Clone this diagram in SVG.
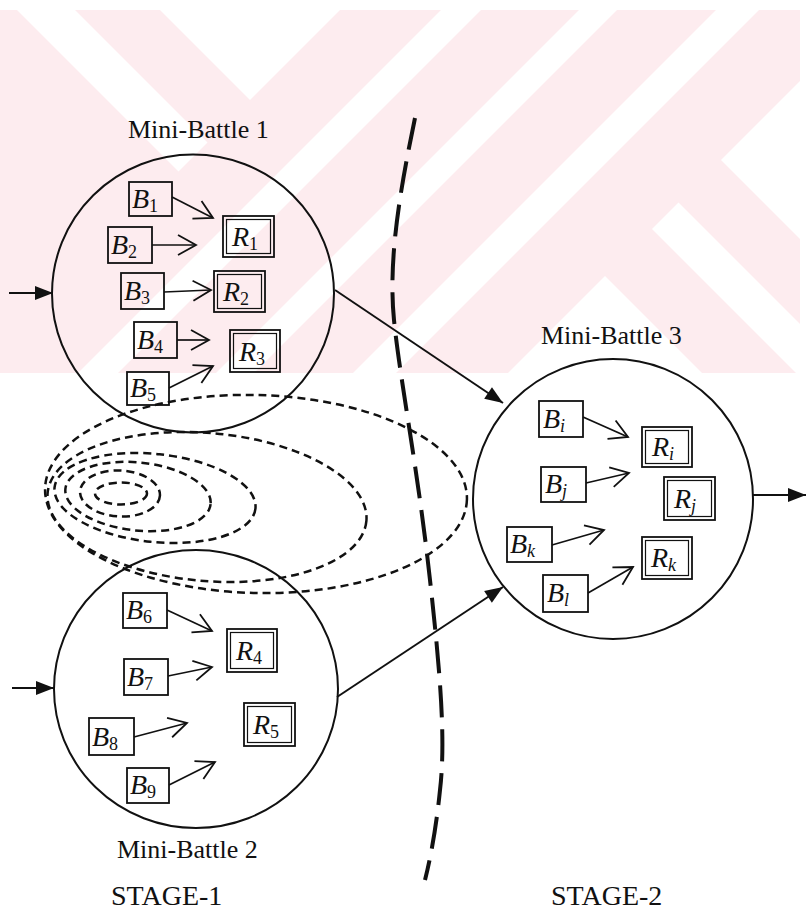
<svg xmlns="http://www.w3.org/2000/svg" width="806" height="911" viewBox="0 0 806 911">
<style>
.lbl{font-family:"Liberation Serif","Times New Roman",serif;font-size:26px;fill:#111}
.stage{font-family:"Liberation Serif","Times New Roman",serif;font-size:28px;fill:#111}
.bt{font-family:"Liberation Serif","Times New Roman",serif;font-size:28px;fill:#111}
.it{font-style:italic}
.sub{font-size:18px}
.circ{fill:none;stroke:#111;stroke-width:2}
.box{fill:none;stroke:#111;stroke-width:1.8}
.inner{fill:none;stroke:#111;stroke-width:1.2}
.conn{fill:none;stroke:#111;stroke-width:2}
.small{fill:none;stroke:#111;stroke-width:1.7}
.contour{fill:none;stroke:#111;stroke-width:2.5;stroke-dasharray:8 5}
.divider{fill:none;stroke:#111;stroke-width:4;stroke-dasharray:32 12}
.wm{fill:#fff}
</style>
<defs>
<clipPath id="wmclip"><rect x="0" y="10" width="800" height="363"/></clipPath>
<marker id="open" viewBox="-21 -13 23 26" refX="0" refY="0" markerWidth="23" markerHeight="26" markerUnits="userSpaceOnUse" orient="auto">
<path d="M-18,-10 L0,0 L-18,10" fill="none" stroke="#111" stroke-width="1.8"/>
</marker>
<marker id="solid" viewBox="-19 -8 20 16" refX="0" refY="0" markerWidth="20" markerHeight="16" markerUnits="userSpaceOnUse" orient="auto">
<path d="M-18,-7 L0,0 L-18,7 Z" fill="#111"/>
</marker>
</defs>
<rect width="806" height="911" fill="#fff"/>
<g id="watermark" clip-path="url(#wmclip)">
<rect x="0" y="10" width="800" height="363" fill="#fdecef"/>
<polygon class="wm" points="7,0 65,0 207.5,142.5 178.5,171.5"/>
<polygon class="wm" points="150,0 350,0 250,100"/>
<polygon class="wm" points="451,0 491,0 91,400 51,400"/>
<polygon class="wm" points="589,0 627,0 227,400 189,400"/>
<polygon class="wm" points="726,0 769,0 369,400 326,400"/>
<polygon class="wm" points="605,276 1005,676 205,676"/>
<polygon class="wm" points="652,229 678.5,202.5 1078.5,602.5 1052,629"/>
<polygon class="wm" points="721,160 1121,-240 1121,560"/>
</g>
<g id="contours">
<ellipse class="contour" cx="256" cy="494" rx="211" ry="99" transform="rotate(1.5 256 494)"/>
<ellipse class="contour" cx="207" cy="507" rx="160" ry="74" transform="rotate(5 207 507)"/>
<ellipse class="contour" cx="155" cy="498" rx="101" ry="44" transform="rotate(6 155 498)"/>
<ellipse class="contour" cx="138" cy="496.5" rx="73" ry="34" transform="rotate(6 138 496.5)"/>
<ellipse class="contour" cx="120" cy="493.5" rx="40" ry="23" transform="rotate(3 120 493.5)"/>
<ellipse class="contour" cx="121" cy="493.5" rx="26" ry="11"/>
</g>
<g id="stage-divider">
<path class="divider" d="M415,118 C400,190 388,260 394,320 C400,380 418,470 430,580 C440,670 446,740 440,790 C436,830 430,860 425,880"/>
</g>
<g id="mini-battle-1">
<ellipse class="circ" cx="193" cy="293.5" rx="141" ry="139"/>
<text class="lbl" x="128" y="138">Mini-Battle 1</text>
</g>
<g id="mini-battle-2">
<ellipse class="circ" cx="196" cy="689" rx="142" ry="139"/>
<text class="lbl" x="117" y="858">Mini-Battle 2</text>
</g>
<g id="mini-battle-3">
<circle class="circ" cx="613" cy="499" r="140"/>
<text class="lbl" x="541" y="344">Mini-Battle 3</text>
</g>
<g id="B1"><rect class="box" x="129" y="182" width="43" height="34"/><text class="bt" x="132" y="208"><tspan class="it">B</tspan><tspan class="sub" dy="4">1</tspan></text></g>
<g id="B2"><rect class="box" x="108" y="227" width="44" height="36"/><text class="bt" x="111" y="254"><tspan class="it">B</tspan><tspan class="sub" dy="4">2</tspan></text></g>
<g id="B3"><rect class="box" x="121" y="273" width="43" height="36"/><text class="bt" x="124" y="300"><tspan class="it">B</tspan><tspan class="sub" dy="4">3</tspan></text></g>
<g id="B4"><rect class="box" x="134" y="322" width="43" height="36"/><text class="bt" x="137" y="349"><tspan class="it">B</tspan><tspan class="sub" dy="4">4</tspan></text></g>
<g id="B5"><rect class="box" x="127" y="372" width="42" height="33"/><text class="bt" x="130" y="397"><tspan class="it">B</tspan><tspan class="sub" dy="4">5</tspan></text></g>
<g id="B6"><rect class="box" x="123" y="593" width="44" height="35"/><text class="bt" x="126" y="619"><tspan class="it">B</tspan><tspan class="sub" dy="4">6</tspan></text></g>
<g id="B7"><rect class="box" x="124" y="659" width="44" height="36"/><text class="bt" x="127" y="686"><tspan class="it">B</tspan><tspan class="sub" dy="4">7</tspan></text></g>
<g id="B8"><rect class="box" x="89" y="718" width="45" height="37"/><text class="bt" x="92" y="746"><tspan class="it">B</tspan><tspan class="sub" dy="4">8</tspan></text></g>
<g id="B9"><rect class="box" x="127" y="768" width="42" height="35"/><text class="bt" x="130" y="794"><tspan class="it">B</tspan><tspan class="sub" dy="4">9</tspan></text></g>
<g id="Bi"><rect class="box" x="539" y="401" width="44" height="36"/><text class="bt" x="543" y="428"><tspan class="it">B</tspan><tspan class="sub it" dy="4">i</tspan></text></g>
<g id="Bj"><rect class="box" x="541" y="467" width="45" height="35"/><text class="bt" x="545" y="493"><tspan class="it">B</tspan><tspan class="sub it" dy="4">j</tspan></text></g>
<g id="Bk"><rect class="box" x="507" y="527" width="45" height="35"/><text class="bt" x="510" y="553"><tspan class="it">B</tspan><tspan class="sub it" dy="4">k</tspan></text></g>
<g id="Bl"><rect class="box" x="543" y="575" width="45" height="37"/><text class="bt" x="547" y="602"><tspan class="it">B</tspan><tspan class="sub it" dy="4">l</tspan></text></g>
<g id="R1"><rect class="box" x="223" y="216" width="51" height="41"/><rect class="inner" x="226.5" y="219.5" width="44" height="34"/><text class="bt" x="232" y="246"><tspan class="it">R</tspan><tspan class="sub" dy="4">1</tspan></text></g>
<g id="R2"><rect class="box" x="214" y="271" width="51" height="41"/><rect class="inner" x="217.5" y="274.5" width="44" height="34"/><text class="bt" x="223" y="301"><tspan class="it">R</tspan><tspan class="sub" dy="4">2</tspan></text></g>
<g id="R3"><rect class="box" x="230" y="330" width="50" height="42"/><rect class="inner" x="233.5" y="333.5" width="43" height="35"/><text class="bt" x="239" y="361"><tspan class="it">R</tspan><tspan class="sub" dy="4">3</tspan></text></g>
<g id="R4"><rect class="box" x="227" y="629" width="50" height="43"/><rect class="inner" x="230.5" y="632.5" width="43" height="36"/><text class="bt" x="236" y="660"><tspan class="it">R</tspan><tspan class="sub" dy="4">4</tspan></text></g>
<g id="R5"><rect class="box" x="244" y="703" width="51" height="43"/><rect class="inner" x="247.5" y="706.5" width="44" height="36"/><text class="bt" x="253" y="734"><tspan class="it">R</tspan><tspan class="sub" dy="4">5</tspan></text></g>
<g id="Ri"><rect class="box" x="642" y="427" width="50" height="40"/><rect class="inner" x="645.5" y="430.5" width="43" height="33"/><text class="bt" x="652" y="456"><tspan class="it">R</tspan><tspan class="sub it" dy="4">i</tspan></text></g>
<g id="Rj"><rect class="box" x="664" y="477" width="51" height="43"/><rect class="inner" x="667.5" y="480.5" width="44" height="36"/><text class="bt" x="674" y="508"><tspan class="it">R</tspan><tspan class="sub it" dy="4">j</tspan></text></g>
<g id="Rk"><rect class="box" x="642" y="537" width="50" height="42"/><rect class="inner" x="645.5" y="540.5" width="43" height="35"/><text class="bt" x="651" y="567"><tspan class="it">R</tspan><tspan class="sub it" dy="4">k</tspan></text></g>
<g id="connectors">
<line class="conn" x1="9" y1="293" x2="53" y2="293" marker-end="url(#solid)"/>
<line class="conn" x1="12" y1="688" x2="54" y2="688" marker-end="url(#solid)"/>
<line class="conn" x1="335" y1="290" x2="503" y2="403" marker-end="url(#solid)"/>
<line class="conn" x1="337" y1="697" x2="503" y2="587" marker-end="url(#solid)"/>
<line class="conn" x1="753" y1="495" x2="806" y2="495" marker-end="url(#solid)"/>
<line class="small" x1="172" y1="197" x2="213" y2="218" marker-end="url(#open)"/>
<line class="small" x1="152" y1="245" x2="196" y2="245" marker-end="url(#open)"/>
<line class="small" x1="164" y1="292" x2="211" y2="290" marker-end="url(#open)"/>
<line class="small" x1="177" y1="340" x2="209" y2="340" marker-end="url(#open)"/>
<line class="small" x1="169" y1="388" x2="213" y2="366" marker-end="url(#open)"/>
<line class="small" x1="167" y1="610" x2="212" y2="631" marker-end="url(#open)"/>
<line class="small" x1="168" y1="676" x2="212" y2="667" marker-end="url(#open)"/>
<line class="small" x1="134" y1="737" x2="187" y2="723" marker-end="url(#open)"/>
<line class="small" x1="169" y1="785" x2="215" y2="762" marker-end="url(#open)"/>
<line class="small" x1="583" y1="417" x2="628" y2="437" marker-end="url(#open)"/>
<line class="small" x1="586" y1="483" x2="629" y2="473" marker-end="url(#open)"/>
<line class="small" x1="552" y1="545" x2="604" y2="530" marker-end="url(#open)"/>
<line class="small" x1="588" y1="593" x2="633" y2="567" marker-end="url(#open)"/>
</g>
<text class="stage" x="111" y="905">STAGE-1</text>
<text class="stage" x="551" y="905">STAGE-2</text>
</svg>
